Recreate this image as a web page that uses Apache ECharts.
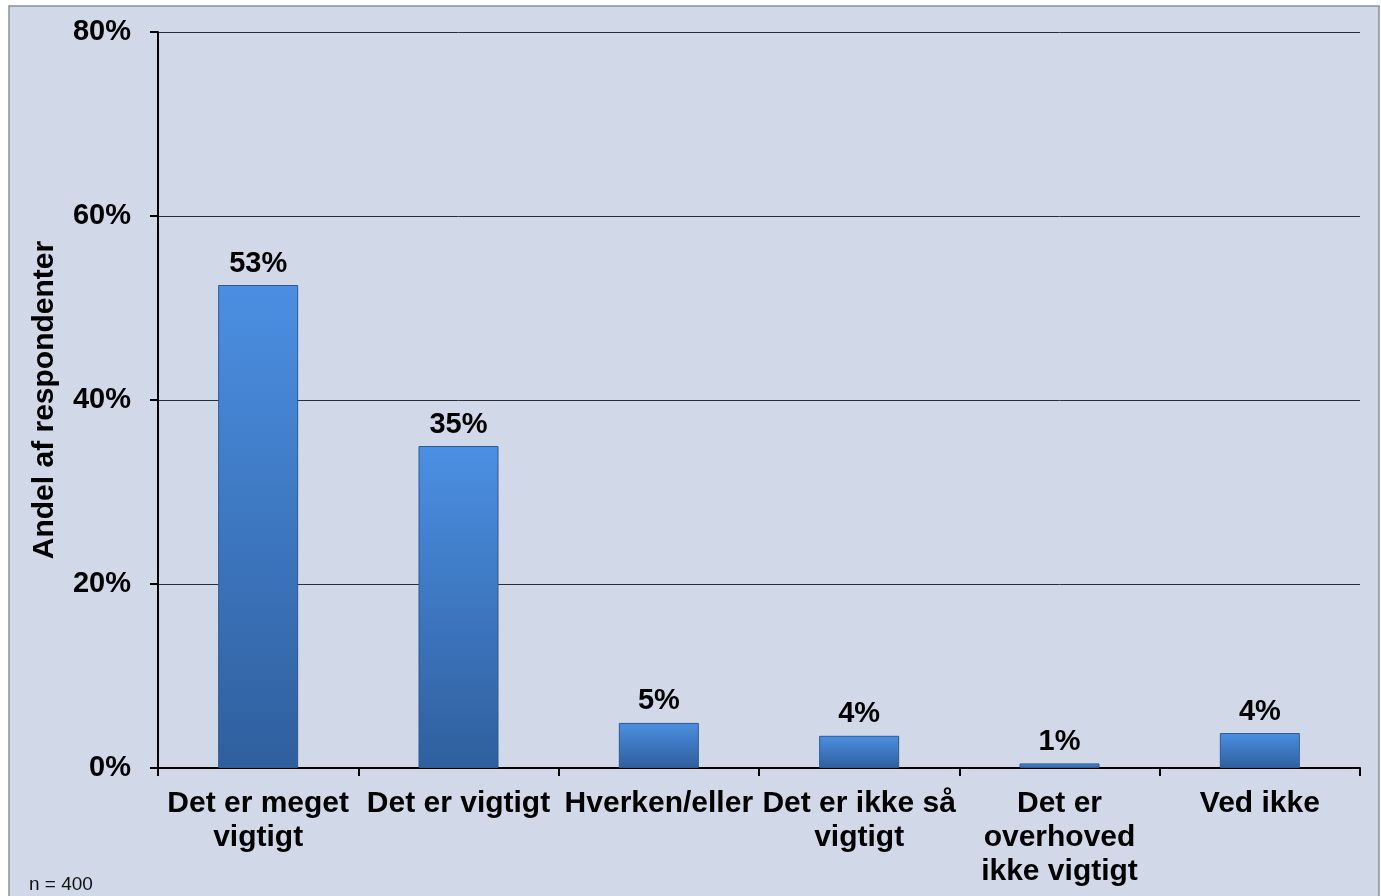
<!DOCTYPE html>
<html>
<head>
  <meta charset="UTF-8">
  <title>Andel af respondenter</title>
  <script src="https://cdn.jsdelivr.net/npm/echarts@6/dist/echarts.min.js"></script>
  <style>
    html, body { margin: 0; padding: 0; background: #fff; }
    #main { width: 1381px; height: 896px; }
  </style>
</head>
<body>
  <div id="main"></div>
  <script type="text/javascript">
    // data
    var categories = [
      'Det er meget\nvigtigt',
      'Det er vigtigt',
      'Hverken/eller',
      'Det er ikke så\nvigtigt',
      'Det er\noverhoved\nikke vigtigt',
      'Ved ikke'
    ];
    var values = [52.5, 35.0, 4.9, 3.5, 0.5, 3.8];
    var yTicks = [0, 20, 40, 60, 80];

    var font = 'Liberation Sans, Arial, sans-serif';
    var myChart = echarts.init(document.getElementById('main'));

    var option = {
      backgroundColor: '#ffffff',
      animation: false,
      graphic: [
        {
          type: 'rect',
          z: -10,
          shape: { x: 9, y: 6, width: 1370, height: 892 },
          style: { fill: '#d1d8e7', stroke: '#8c8f96', lineWidth: 1.5 }
        },
        {
          type: 'text',
          left: 29,
          top: 875,
          style: { text: 'n = 400', font: '19px ' + font, fill: '#111' }
        }
      ],
      grid: { left: 158, right: 21, top: 32, bottom: 128 },
      xAxis: {
        type: 'category',
        data: categories,
        axisLine: { lineStyle: { color: '#000', width: 2 } },
        axisTick: { show: true, length: 8, lineStyle: { color: '#000', width: 2 } },
        axisLabel: {
          interval: 0,
          margin: 19,
          color: '#000',
          fontFamily: font,
          fontWeight: 'bold',
          fontSize: 30,
          lineHeight: 34,
          align: 'center'
        }
      },
      yAxis: {
        type: 'value',
        min: yTicks[0],
        max: yTicks[yTicks.length - 1],
        interval: 20,
        name: 'Andel af respondenter',
        nameLocation: 'middle',
        nameRotate: 90,
        nameGap: 98,
        nameTextStyle: { color: '#000', fontFamily: font, fontWeight: 'bold', fontSize: 30 },
        axisLine: { show: true, lineStyle: { color: '#000', width: 2 } },
        axisTick: { show: true, length: 8, lineStyle: { color: '#000', width: 2 } },
        axisLabel: {
          margin: 27,
          color: '#000',
          fontFamily: font,
          fontWeight: 'bold',
          fontSize: 29,
          formatter: '{value}%'
        },
        splitLine: { show: true, lineStyle: { color: '#2a2f3a', width: 1 } }
      },
      series: [{
        type: 'bar',
        data: values,
        barWidth: 80,
        itemStyle: {
          color: new echarts.graphic.LinearGradient(0, 0, 0, 1, [
            { offset: 0, color: '#4b8fe2' },
            { offset: 1, color: '#2f5f9e' }
          ]),
          borderColor: '#2d5a92',
          borderWidth: 1
        },
        label: {
          show: true,
          position: 'top',
          distance: 7,
          color: '#000',
          fontFamily: font,
          fontWeight: 'bold',
          fontSize: 29,
          formatter: function (p) { return Math.round(p.value) + '%'; }
        }
      }]
    };

    myChart.setOption(option);
  </script>
</body>
</html>
